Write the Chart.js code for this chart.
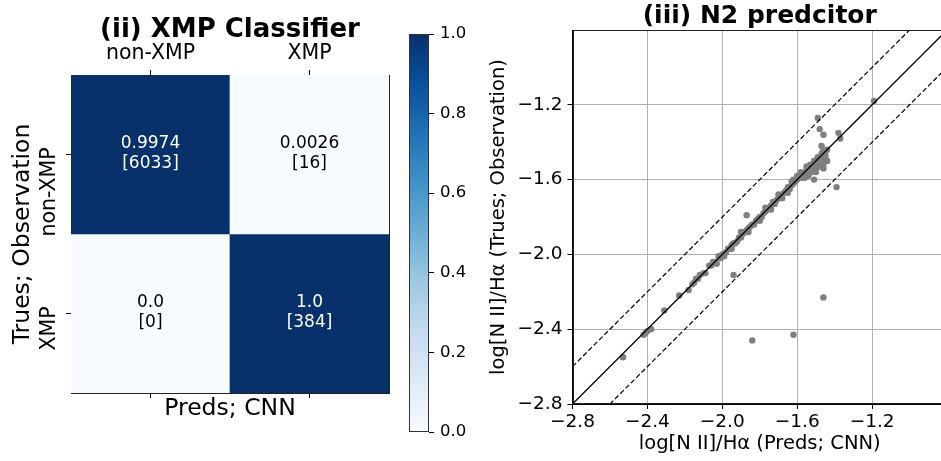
<!DOCTYPE html>
<html>
<head>
<meta charset="utf-8">
<script src="https://cdn.jsdelivr.net/npm/chart.js@4"></script>
<style>
html, body { margin: 0; padding: 0; background: #fff; overflow: hidden; width: 941px; height: 461px; }
canvas { position: absolute; top: 0; }
#matrix { left: 0; }
#cbar { left: 395px; }
#scatter { left: 470px; }
</style>
</head>
<body>
<canvas id="matrix" width="400" height="461"></canvas>
<canvas id="cbar" width="75" height="461"></canvas>
<canvas id="scatter" width="490" height="461"></canvas>
<script>
// confusion matrix
const colLabels = ['non-XMP', 'XMP'];
const rowLabels = ['non-XMP', 'XMP'];
const cellRatios = [[0.9974, 0.0026], [0.0, 1.0]];
const cellCounts = [[6033, 16], [0, 384]];
const cbarTicks = [0.0, 0.2, 0.4, 0.6, 0.8, 1.0];

// N2 predictor scatter (pred, true)
const predVals = [
  -2.53, -2.42, -2.41, -2.40, -2.38, -2.31, -2.23, -2.18, -2.16, -2.15,
  -2.14, -2.13, -2.12, -2.10, -2.09, -2.07, -2.06, -2.05, -2.04, -2.03,
  -2.02, -2.01, -2.00, -1.99, -1.98, -1.97, -1.96, -1.95, -1.95, -1.94,
  -1.93, -1.92, -1.91, -1.90, -1.90, -1.89, -1.88, -1.87, -1.86, -1.86,
  -1.85, -1.84, -1.83, -1.82, -1.81, -1.80, -1.80, -1.79, -1.78, -1.77,
  -1.77, -1.76, -1.75, -1.74, -1.74, -1.73, -1.72, -1.71, -1.70, -1.70,
  -1.69, -1.68, -1.68, -1.67, -1.66, -1.65, -1.65, -1.64, -1.63, -1.63,
  -1.62, -1.62, -1.61, -1.60, -1.60, -1.59, -1.58, -1.58, -1.57, -1.57,
  -1.56, -1.56, -1.55, -1.55, -1.54, -1.54, -1.53, -1.53, -1.52, -1.52,
  -1.51, -1.51, -1.50, -1.50, -1.50, -1.49, -1.49, -1.48, -1.48, -1.47,
  -1.47, -1.47, -1.46, -1.46, -1.46, -1.46, -1.45, -1.45, -1.44, -1.44,
  -1.87, -1.94, -1.84, -1.62, -1.46, -1.19, -1.49, -1.48, -1.46, -1.38,
  -1.37, -1.39, -1.51
];
const trueVals = [
  -2.55, -2.43, -2.42, -2.41, -2.40, -2.30, -2.22, -2.19, -2.16, -2.15,
  -2.13, -2.13, -2.11, -2.10, -2.10, -2.06, -2.06, -2.04, -2.04, -2.05,
  -2.01, -2.02, -2.00, -2.01, -1.99, -1.97, -1.97, -1.95, -1.97, -1.94,
  -1.94, -1.93, -1.91, -1.91, -1.88, -1.89, -1.88, -1.87, -1.86, -1.88,
  -1.85, -1.84, -1.84, -1.82, -1.81, -1.80, -1.82, -1.80, -1.78, -1.77,
  -1.75, -1.76, -1.75, -1.74, -1.76, -1.72, -1.73, -1.71, -1.70, -1.68,
  -1.69, -1.68, -1.70, -1.67, -1.66, -1.64, -1.67, -1.65, -1.63, -1.61,
  -1.62, -1.60, -1.61, -1.60, -1.58, -1.59, -1.58, -1.56, -1.57, -1.59,
  -1.57, -1.59, -1.55, -1.53, -1.55, -1.58, -1.54, -1.52, -1.53, -1.56,
  -1.52, -1.50, -1.51, -1.54, -1.56, -1.51, -1.48, -1.50, -1.53, -1.50,
  -1.46, -1.42, -1.49, -1.52, -1.54, -1.44, -1.48, -1.47, -1.50, -1.44,
  -1.79, -2.11, -2.46, -2.43, -2.23, -1.18, -1.27, -1.33, -1.36, -1.35,
  -1.38, -1.64, -1.60
];
const axisRange = [-2.8, -0.8];
const axisTicks = [-2.8, -2.4, -2.0, -1.6, -1.2];
const bandOffsets = [0.2, -0.2];

Chart.defaults.font.family = '"DejaVu Sans"';
Chart.defaults.color = '#000';

const bluesStops = ['#f7fbff', '#deebf7', '#c6dbef', '#9ecae1', '#6baed6', '#4292c6', '#2171b5', '#08519c', '#08306b'];
function hexRgb(h) {
  return [1, 3, 5].map(k => parseInt(h.substr(k, 2), 16));
}
function blues(t) {
  const n = bluesStops.length - 1;
  const p = Math.max(0, Math.min(1, t)) * n;
  const k = Math.min(n - 1, Math.floor(p));
  const f = p - k;
  const a = hexRgb(bluesStops[k]), b = hexRgb(bluesStops[k + 1]);
  const c = a.map((v, i) => Math.round(v + (b[i] - v) * f));
  return 'rgb(' + c.join(',') + ')';
}
function fmtRatio(v) {
  return Number.isInteger(v) ? v.toFixed(1) : String(v);
}
function fmtTick(v) {
  return (v < 0 ? '\u2212' : '') + Math.abs(v).toFixed(1);
}
function noPad(s) {
  s.paddingTop = 0; s.paddingBottom = 0; s.paddingLeft = 0; s.paddingRight = 0;
}

const frame = {
  id: 'frame',
  afterDraw(chart, args, opts) {
    const a = chart.chartArea;
    const ctx = chart.ctx;
    ctx.save();
    ctx.strokeStyle = opts.color || '#000';
    ctx.lineWidth = 1;
    ctx.strokeRect(Math.round(a.left) + 0.5, Math.round(a.top) + 0.5,
      Math.round(a.right - a.left) - 1, Math.round(a.bottom - a.top) - 1);
    ctx.restore();
  }
};

const cellText = {
  id: 'cellText',
  afterDatasetsDraw(chart) {
    const ctx = chart.ctx;
    const x = chart.scales.x, y = chart.scales.y;
    ctx.save();
    ctx.font = '17px "DejaVu Sans"';
    ctx.textAlign = 'center';
    ctx.textBaseline = 'middle';
    rowLabels.forEach((r, i) => {
      colLabels.forEach((c, j) => {
        const v = cellRatios[i][j];
        const px = x.getPixelForValue(j);
        const py = y.getPixelForValue(i + 0.5);
        ctx.fillStyle = v > 0.5 ? '#fff' : '#000';
        ctx.fillText(fmtRatio(v), px, py - 10.5);
        ctx.fillText('[' + cellCounts[i][j] + ']', px, py + 9.5);
      });
    });
    ctx.restore();
  }
};

new Chart(document.getElementById('matrix').getContext('2d'), {
  type: 'bar',
  data: {
    labels: colLabels,
    datasets: rowLabels.map((r, i) => ({
      label: r,
      data: colLabels.map(() => [i, i + 1]),
      backgroundColor: cellRatios[i].map(blues),
      grouped: false,
      barPercentage: 1,
      categoryPercentage: 1,
      borderWidth: 0,
      xAxisID: 'x',
      yAxisID: 'y'
    }))
  },
  options: {
    responsive: false,
    animation: false,
    layout: { padding: { left: 0, right: 11, top: 0, bottom: 0 } },
    plugins: {
      legend: { display: false },
      tooltip: { enabled: false }
    },
    scales: {
      x: {
        type: 'category',
        position: 'top',
        offset: true,
        grid: { offset: false, drawOnChartArea: false, drawTicks: true, tickLength: 5, tickColor: '#000' },
        border: { display: true, color: '#222', width: 1 },
        ticks: { font: { size: 20.5 }, padding: 4.5, maxRotation: 0 },
        title: {
          display: true,
          text: '(ii) XMP Classifier',
          font: { size: 26, weight: 'bold', lineHeight: 1.2 },
          padding: { top: 15, bottom: 0 }
        },
        afterFit: s => { s.height = 75; noPad(s); }
      },
      x2: {
        type: 'category',
        labels: colLabels,
        position: 'bottom',
        offset: true,
        grid: { offset: false, drawOnChartArea: false, drawTicks: true, tickLength: 5, tickColor: '#000' },
        border: { display: true, color: '#222', width: 1 },
        ticks: { display: false },
        title: { display: true, text: 'Preds; CNN', font: { size: 23.5, lineHeight: 1.2 }, padding: { top: 0, bottom: 38 } },
        afterFit: s => { s.height = 68; noPad(s); }
      },
      y: {
        type: 'linear',
        position: 'left',
        min: 0,
        max: 2,
        reverse: true,
        afterBuildTicks: s => { s.ticks = rowLabels.map((r, i) => ({ value: i + 0.5 })); },
        grid: { drawOnChartArea: false, drawTicks: true, tickLength: 5, tickColor: '#000' },
        border: { display: true, color: '#222', width: 1 },
        ticks: {
          callback: v => rowLabels[Math.floor(v)],
          minRotation: 90,
          maxRotation: 90,
          padding: 16.5,
          labelOffset: -7,
          font: { size: 20.5 }
        },
        title: { display: true, text: 'Trues; Observation', font: { size: 23.5, lineHeight: 1.2 }, padding: { top: 8.5, bottom: 0 } },
        afterFit: s => { s.width = 71; noPad(s); }
      },
      y2: {
        type: 'linear',
        position: 'right',
        min: 0,
        max: 2,
        grid: { drawOnChartArea: false, drawTicks: false },
        border: { display: true, color: '#222', width: 1 },
        ticks: { display: false },
        afterFit: s => { s.width = 0; noPad(s); }
      }
    }
  },
  plugins: [cellText]
});

new Chart(document.getElementById('cbar').getContext('2d'), {
  type: 'bar',
  data: {
    labels: [''],
    datasets: [{
      data: [[cbarTicks[0], cbarTicks[cbarTicks.length - 1]]],
      backgroundColor: c => {
        const chart = c.chart;
        const a = chart.chartArea;
        if (!a) return bluesStops[0];
        const g = chart.ctx.createLinearGradient(0, a.bottom, 0, a.top);
        bluesStops.forEach((col, k) => g.addColorStop(k / (bluesStops.length - 1), col));
        return g;
      },
      barPercentage: 1,
      categoryPercentage: 1,
      borderWidth: 0
    }]
  },
  options: {
    responsive: false,
    animation: false,
    layout: { padding: { left: 14, right: 0, top: 34, bottom: 29 } },
    plugins: { legend: { display: false }, tooltip: { enabled: false }, frame: { color: '#333' } },
    scales: {
      x: { display: false, offset: true },
      y: {
        position: 'right',
        min: 0,
        max: 1,
        afterBuildTicks: s => { s.ticks = cbarTicks.map(v => ({ value: v })); },
        grid: { drawOnChartArea: false, drawTicks: true, tickLength: 5, tickColor: '#000' },
        border: { display: false },
        ticks: { callback: v => v.toFixed(1), padding: 6, font: { size: 16.5 } },
        afterFit: s => { s.width = 41; noPad(s); }
      }
    }
  },
  plugins: [frame]
});

const points = predVals.map((p, i) => ({ x: p, y: trueVals[i] }));

new Chart(document.getElementById('scatter').getContext('2d'), {
  type: 'scatter',
  data: {
    datasets: [
      {
        data: axisRange.map(v => ({ x: v, y: v })),
        showLine: true,
        borderColor: '#000',
        borderWidth: 1.3,
        pointRadius: 0,
        order: 0
      },
      ...bandOffsets.map(o => ({
        data: axisRange.map(v => ({ x: v, y: v + o })),
        showLine: true,
        borderColor: '#000',
        borderWidth: 1.2,
        borderDash: [5, 2.5],
        pointRadius: 0,
        order: 0
      })),
      {
        data: points,
        backgroundColor: '#7f7f7f',
        borderWidth: 0,
        pointRadius: 3.2,
        order: 1
      }
    ]
  },
  options: {
    responsive: false,
    animation: false,
    layout: { padding: { left: 0, right: 13, top: 0, bottom: 0 } },
    plugins: {
      legend: { display: false },
      tooltip: { enabled: false },
      frame: { color: '#222' }
    },
    scales: {
      x: {
        type: 'linear',
        min: axisRange[0],
        max: axisRange[1],
        afterBuildTicks: s => { s.ticks = axisTicks.map(v => ({ value: v })); },
        grid: { color: '#b0b0b0', lineWidth: 1, tickColor: '#000', tickLength: 5 },
        border: { display: true, color: '#000', width: 1 },
        ticks: { callback: fmtTick, padding: 2, font: { size: 18.5 }, maxRotation: 0 },
        title: { display: true, text: 'log[N II]/H\u03b1 (Preds; CNN)', font: { size: 19.5, lineHeight: 1.2 }, padding: { top: 0, bottom: 5 } },
        afterFit: s => { s.height = 57; noPad(s); }
      },
      xTop: {
        type: 'linear',
        position: 'top',
        min: axisRange[0],
        max: axisRange[1],
        grid: { display: false },
        border: { display: false },
        ticks: { display: false },
        title: {
          display: true,
          text: '(iii) N2 predcitor',
          font: { size: 25, weight: 'bold', lineHeight: 1.2 },
          padding: { top: 1, bottom: 0 }
        },
        afterFit: s => { s.height = 30; noPad(s); }
      },
      y: {
        type: 'linear',
        min: axisRange[0],
        max: axisRange[1],
        afterBuildTicks: s => { s.ticks = axisTicks.map(v => ({ value: v })); },
        grid: { color: '#b0b0b0', lineWidth: 1, tickColor: '#000', tickLength: 5 },
        border: { display: true, color: '#000', width: 1 },
        ticks: { callback: fmtTick, padding: 5, font: { size: 18.5 } },
        title: { display: true, text: 'log[N II]/H\u03b1 (Trues; Observation)', font: { size: 19.5, lineHeight: 1.2 }, padding: { top: 17.3, bottom: 0 } },
        afterFit: s => { s.width = 102.5; noPad(s); }
      }
    }
  },
  plugins: [frame]
});
</script>
</body>
</html>
